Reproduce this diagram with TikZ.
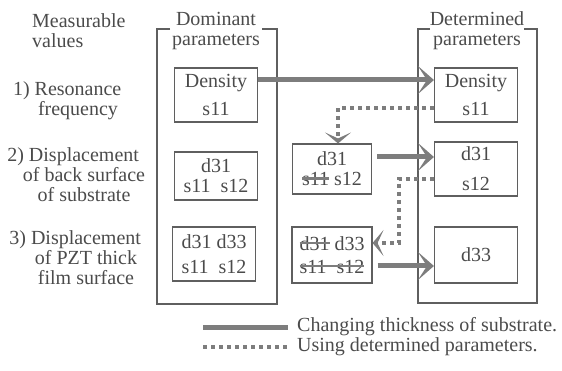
\documentclass[tikz,border=0pt]{standalone}
\usepackage{fontspec}
\setmainfont{Liberation Serif}
\newfontfamily\figfont{Liberation Serif}
\usepackage{xcolor}
\usepackage{tikz}
\usetikzlibrary{positioning, arrows.meta}
\definecolor{inkgray}{RGB}{75, 75, 75}
\definecolor{linegray}{RGB}{95, 95, 95}
\definecolor{arrowgray}{RGB}{125, 125, 125}
\newsavebox{\strikebox}
\newcommand{\struck}[1]{\sbox{\strikebox}{#1}\usebox{\strikebox}\llap{\textcolor{arrowgray}{\rule[0.3em]{\wd\strikebox}{2.4pt}}}}

\begin{document}
\begin{tikzpicture}[
  x=1pt, y=-1pt,
  font=\figfont\fontsize{20}{20}\selectfont, text=inkgray,
  box/.style={rectangle, draw=linegray, line width=1.1pt, minimum width=83pt, minimum height=54pt, align=center, inner sep=2pt},
  panel/.style={draw=linegray, line width=1.1pt},
  rowtext/.style={align=center, inner sep=0pt},
  change/.style={draw=arrowgray, line width=5pt, -{Stealth[length=16pt, width=28pt, inset=9pt]}},
  reuse/.style={draw=arrowgray, line width=4pt, dash pattern=on 4pt off 4pt, -{Stealth[length=11pt, width=26pt, inset=6pt]}},
]
  \useasboundingbox (0,0) rectangle (562,371);

  % Measurable values
  \node[rowtext, anchor=west, align=left] (meas) at (32,31) {Measurable\\values};
  \node[rowtext] (val1) at (78,101) {\llap{1) }Resonance\\frequency};
  \node[rowtext] (val2) at (84,175) {\llap{2) }Displacement\\of back surface\\of substrate};
  \node[rowtext] (val3) at (86,258) {\llap{3) }Displacement\\of PZT thick\\film surface};

  % Dominant parameters
  \node[rowtext] (domhead) at (216,31) {Dominant\\parameters};
  \draw[panel] (170,29) -| (157,304) -| (277,29) -- (262,29);
  \node[box] (dom1) at (216,95) {Density\\[8pt]s11};
  \node[box, minimum height=48pt] (dom2) at (216,176) {d31\\s11\enspace s12};
  \node[box] (dom3) at (214,254) {d31 d33\\[5pt]s11\enspace s12};

  % Intermediate steps
  \node[box, minimum width=79pt, minimum height=50pt] (mid2) at (332,169) {d31\\\struck{s11} s12};
  \node[box, minimum width=80pt, minimum height=56pt] (mid3) at (332,255) {\struck{d31} d33\\[3pt]\struck{s11\enspace s12}};

  % Determined parameters
  \node[rowtext] (dethead) at (477,31) {Determined\\parameters};
  \draw[panel] (430,29) -| (418,303) -| (537,29) -- (524,29);
  \node[box] (det1) at (476,95) {Density\\[8pt]s11};
  \node[box] (det2) at (476,169) {d31\\[10pt]s12};
  \node[box, minimum height=56pt] (det3) at (476,255) {d33};

  % Changing thickness
  \draw[change] ([yshift=15pt]dom1.east) -- ([yshift=15pt]det1.west);
  \draw[change] ([xshift=5pt,yshift=12pt]mid2.east) -- ([yshift=12pt]det2.west);
  \draw[change] ([xshift=5pt,yshift=-11pt]mid3.east) -- ([yshift=-11pt]det3.west);

  % Using determined parameters
  \draw[reuse] ([yshift=-13pt]det1.west) -| ([xshift=6pt]mid2.north);
  \draw[reuse] ([yshift=-10pt]det2.west) -- ++(-35,0) |- ([yshift=12pt]mid3.east);

  % Legend
  \node[rowtext, anchor=west] (leg1) at (297,327) {Changing thickness of substrate.};
  \node[rowtext, anchor=west] (leg2) at (297,347) {Using determined parameters.};
  \draw[draw=arrowgray, line width=5pt] ([xshift=-94pt]leg1.west) -- ([xshift=-9pt]leg1.west);
  \draw[reuse, -] ([xshift=-94pt]leg2.west) -- ([xshift=-9pt]leg2.west);

\end{tikzpicture}
\end{document}
